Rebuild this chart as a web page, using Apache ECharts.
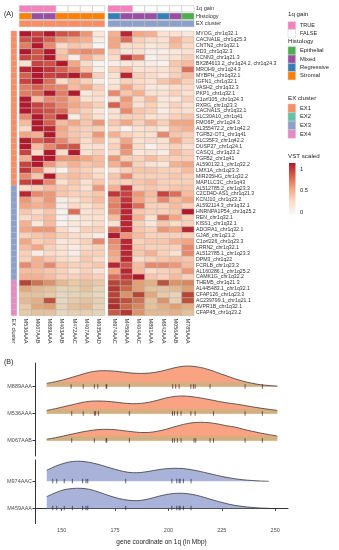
<!DOCTYPE html>
<html><head><meta charset="utf-8">
<script src="https://cdn.jsdelivr.net/npm/echarts@6/dist/echarts.min.js"></script>
<style>html,body{margin:0;padding:0;background:#fff}#c{width:339px;height:550px}</style>
</head><body><div id="c"></div>
<script>
// ---------------- DATA ----------------
const genes = ['MYOG_chr1q32.1','CACNA1E_chr1q25.3','CNTN2_chr1q32.1','RD3_chr1q32.3','KCNN3_chr1q21.3','BX284613.2_chr1q24.2, chr1q24.3','MROH9_chr1q24.3','MYBPH_chr1q32.1','IGFN1_chr1q32.1','VASH2_chr1q32.3','PKP1_chr1q32.1','C1orf105_chr1q24.3','RXRG_chr1q23.3','CACNA1S_chr1q32.1','SLC30A10_chr1q41','FMO6P_chr1q24.3','AL355472.2_chr1q42.2','TGFB2-OT1_chr1q41','SLC35F3_chr1q42.2','DUSP27_chr1q24.1','CASQ1_chr1q23.2','TGFB2_chr1q41','AL590132.1_chr1q32.2','LMX1A_chr1q23.3','MIR205HG_chr1q32.2','MAP1LC3C_chr1q43','AL512785.2_chr1q23.3','C2CD4D-AS1_chr1q21.3','KCNJ10_chr1q23.2','AL592114.3_chr1q32.1','HNRNPA1P54_chr1q25.2','REN_chr1q32.1','KISS1_chr1q32.1','ADORA1_chr1q32.1','GJA8_chr1q21.2','C1orf226_chr1q23.3','LRRN2_chr1q32.1','AL512785.1_chr1q23.3','DPM3_chr1q22','FCRLB_chr1q23.3','AL160286.1_chr1q25.2','CAMK1G_chr1q32.2','THEM5_chr1q21.3','AL445483.1_chr1q32.1','CFAP126_chr1q23.3','AC239799.1_chr1q21.1','AVPR1B_chr1q32.1','CFAP45_chr1q23.2'];
const geneCluster = [].concat(Array(26).fill('EX1'), Array(16).fill('EX3'), Array(6).fill('EX4'));
const samplesL = ['M536AAA','M067AAB','M889AAA','M403AAB','M472AAC','M407AAA','M035AAD'];
const samplesR = ['M974AAC','M459AAA','M404AAC','M891AAA','M842AAA','M056AAB','M785AAA'];
const gainL = ['TRUE','TRUE','TRUE','FALSE','FALSE','FALSE','FALSE'];
const gainR = ['TRUE','TRUE','FALSE','FALSE','FALSE','FALSE','FALSE'];
const histL = ['Stromal','Mixed','Mixed','Stromal','Stromal','Stromal','Stromal'];
const histR = ['Regressive','Mixed','Mixed','Mixed','Regressive','Mixed','Epithelial'];
const clusterL = ['EX1','EX1','EX1','EX1','EX1','EX1','EX1'];
const clusterR = ['EX3','EX3','EX3','EX3','EX3','EX3','EX3'];
const annRows = ['1q gain','Histology','EX cluster'];

const vstL = [
[1.0,0.85,1.0,0.8,0.75,0.55,0.15],[0.8,0.9,0.75,0.55,0.5,0.45,0.1],[0.65,1.0,0.6,0.25,0.35,0.3,0.02],
[1.0,0.8,1.0,0.35,0.55,0.6,0.55],[0.85,0.8,1.0,0.4,0.1,0.45,0.3],[0.2,0.85,0.8,1.0,0.5,0.25,0.05],
[0.95,1.0,0.9,0.75,0.6,0.35,0.1],[0.75,1.0,0.85,0.9,1.0,0.75,0.3],[0.85,1.0,0.7,0.25,0.4,0.3,0.1],
[0.65,0.75,0.65,0.6,0.4,0.5,0.3],[0.65,0.7,1.0,0.65,1.0,0.15,0.25],[1.0,0.4,0.6,0.6,0.45,0.2,0.2],
[1.0,0.85,0.75,0.6,0.5,0.4,0.3],[1.0,0.85,0.8,0.7,0.4,0.3,0.15],[0.6,1.0,0.75,1.0,0.1,0.35,0.2],
[0.4,1.0,0.75,0.4,0.5,0.35,0.55],[0.25,1.0,0.95,0.5,0.35,0.3,0.3],[0.5,0.45,1.0,0.45,0.35,0.3,0.55],
[1.0,0.75,0.85,0.6,0.4,0.25,0.4],[1.0,0.4,0.6,0.75,0.8,0.2,0.2],[0.85,0.25,1.0,0.25,1.0,0.2,0.3],
[0.45,1.0,1.0,0.55,0.55,0.5,0.4],[0.85,1.0,0.55,0.35,0.45,0.35,0.4],[0.9,0.6,0.25,0.05,0.35,0.3,0.2],
[0.6,0.35,1.0,0.35,0.4,0.35,0.25],[0.85,0.95,0.6,0.2,0.35,0.2,0.35],
[0.25,0.3,0.4,0.35,0.3,0.2,0.55],[0.95,0.6,0.55,0.35,0.3,0.3,0.35],[0.55,0.4,0.55,0.1,0.2,0.3,0.4],
[0.5,0.45,0.5,0.1,0.25,0.2,0.3],[0.35,0.25,0.35,0.05,0.7,0.2,0.25],[0.25,0.3,0.4,0.05,0.1,0.2,0.2],
[0.45,0.15,0.4,0.05,0.15,0.15,0.25],[0.5,0.55,0.55,0.25,0.1,0.3,0.3],[0.3,0.35,0.4,0.3,0.25,0.2,0.1],
[0.5,0.3,0.35,0.15,0.2,0.3,0.6],[0.4,0.5,0.3,0.2,0.1,0.25,0.3],[0.3,0.1,0.25,0.2,0.1,0.3,0.3],
[0.3,0.45,0.35,0.25,0.2,0.35,0.25],[0.6,0.45,0.6,0.35,0.3,0.3,0.35],[0.4,0.4,0.35,0.3,0.2,0.3,0.2],
[0.45,0.45,0.4,0.3,0.3,0.35,0.3],[0.9,0.7,0.55,0.35,0.25,0.3,0.25],[0.45,0.35,0.3,0.15,0.2,0.3,0.15],
[0.3,0.3,0.25,0.1,0.15,0.2,0.1],[0.35,0.4,0.85,0.1,0.25,0.3,0.2],[0.25,0.45,0.5,0.15,0.3,0.35,0.15],
[0.25,0.3,0.3,0.1,0.2,0.2,0.15]];
const vstR = [
[0.45,0.95,0.5,0.45,0.2,0.2,0.15],[0.5,0.7,0.3,0.25,0.2,0.45,0.3],[0.5,0.25,0.25,0.15,0.2,0.4,0.25],
[0.3,0.15,0.2,0.1,0.1,0.15,0.2],[0.25,0.9,0.65,0.05,0.15,0.2,0.3],[0.1,0.15,0.15,0.1,0.05,0.35,0.4],
[0.3,0.4,0.2,0.2,0.2,0.3,0.7],[0.2,0.95,0.3,0.25,0.15,0.3,0.4],[0.15,0.3,0.25,0.2,0.35,0.45,0.3],
[0.2,0.5,0.3,0.15,0.15,0.25,0.25],[0.6,0.35,0.45,0.2,0.2,0.3,0.2],[0.2,0.55,0.25,0.4,0.15,0.15,0.3],
[0.75,0.5,0.2,0.3,0.15,0.3,0.2],[0.2,0.6,0.35,0.3,0.1,0.25,0.2],[0.2,0.3,0.3,0.2,0.2,0.3,0.35],
[0.35,0.5,0.3,0.45,0.3,0.5,0.5],[0.25,0.05,0.2,0.25,0.15,0.4,0.45],[0.45,0.3,0.25,0.2,0.6,0.35,0.3],
[0.25,0.5,0.2,0.25,0.2,0.5,0.3],[0.3,0.6,0.25,0.05,0.2,0.3,0.2],[0.25,0.55,0.15,0.2,0.1,0.4,0.3],
[0.55,0.3,0.3,0.4,0.3,0.3,0.3],[0.45,0.6,0.3,0.2,0.15,0.45,0.5],[0.2,0.3,0.35,0.35,0.3,0.3,0.4],
[0.35,0.6,0.3,0.3,0.3,0.35,0.3],[0.3,0.3,0.35,0.4,0.3,0.3,0.3],
[0.45,0.9,0.3,0.35,0.3,0.35,0.35],[0.9,0.85,0.55,0.4,0.85,0.7,0.4],[0.6,0.9,0.5,0.35,0.6,0.4,0.5],
[0.65,0.95,0.7,0.3,0.3,0.4,0.3],[0.6,0.95,0.35,0.3,0.3,0.35,1.0],[0.4,0.95,0.45,0.2,0.7,0.5,0.3],
[0.2,0.95,0.3,0.15,0.35,0.25,0.3],[0.7,0.95,0.35,0.3,0.55,0.5,0.95],[1.0,0.55,0.4,0.3,0.3,0.3,0.3],
[0.6,0.95,0.3,0.35,0.35,0.45,0.5],[0.55,0.95,0.35,0.3,0.3,0.3,0.6],[0.5,0.95,0.35,0.45,0.3,0.2,0.6],
[0.45,0.95,0.25,0.3,0.35,0.4,0.35],[0.95,0.8,0.4,0.6,0.6,0.55,0.4],[0.5,0.95,0.4,0.25,0.3,0.35,0.55],
[0.7,0.9,1.0,0.35,0.3,0.4,0.3],[0.9,0.85,0.5,0.4,0.85,0.55,0.6],[0.95,0.75,0.5,0.3,0.3,0.35,0.5],
[0.9,0.55,0.9,0.45,0.25,0.15,0.9],[0.95,0.85,0.7,0.3,0.55,0.2,0.85],[1.0,0.75,0.6,0.3,0.4,0.5,0.4],
[0.8,0.95,0.55,0.35,0.35,0.4,0.3]];

// Panel B
const ridgeTop = ['M067AAB','M536AAA','M889AAA'];   // bottom -> top
const ridgeBot = ['M459AAA','M974AAC'];
const densX = [143,147,151,155,159,163,167,171,175,179,183,187,191,195,199,203,207,211,215,219,223,227,231,235,239,243,247,251];
const densM889 = [3.3,5,7,9.5,12,14.5,15.8,16,15.5,14.5,13.6,13.3,13.6,14.8,16.8,19,20.5,20.5,19.3,17,14,11,8,5.5,3.5,2,1.2,0.6];
const densM536 = [3.3,5,7,9,11,12.4,12.7,12.4,11.6,10.6,10,10.3,11.5,13.5,15.8,17.3,17.7,17,15.8,14.2,12.5,11,9.8,8.5,7,5.6,4.4,3.3];
const densM067 = [1.5,3,4.8,6.7,8.5,10,11.1,11.4,11,10,9,8.2,8.3,9.5,11.5,14,16.3,17.9,18.4,18,16.8,15,13.7,11.5,9.5,7.7,6.1,4.7];
const densXB = [143,147,151,155,159,163,167,171,175,179,183,187,191,195,199,203,207,211,215,219,223,227,231,235,239,243,247];
const densM974 = [11,15,18,19.8,20,19,17,14.5,12,9.8,8.6,8.8,10,11.5,12.6,13,12.7,11.5,9.8,7.8,5.8,4,2.6,1.5,0.8,0.3,0];
const densM459 = [11.6,15.5,18.5,19.8,20,19,16.5,13.5,10.8,8.8,7.7,7.9,9.5,11.8,13.8,14.9,15,14,12,9.5,7,4.8,3,1.8,0.9,0.3,0];
const rugM889 = [154.4,160.1,165.3,166.9,170.8,171.1,181.7,202.0,203.4,205.0,210.5,211.7,212.5,219.5,235.9,244.0];
const rugM536 = [154.7,160.1,165.3,165.9,167.2,181.7,201.9,202.8,204.2,205.9,210.5,212.5,221.1,235.9,244.0];
const rugM067 = [154.7,165.3,170.8,171.1,181.7,201.9,202.8,204.2,205.9,212.0,212.8,219.5,221.1,235.9,244.0];
const rugM974 = [145.8,147.7,151.2,155.0,159.8,161.4,162.2,180.0,201.6,203.9,205.0,205.5,207.0,210.6];
const rugM459 = [145.8,147.7,151.2,155.0,159.8,161.4,162.2,180.0,201.6,203.9,205.0,205.5,207.0,210.6];
const xTicks = [150,175,200,225,250];
const vstTicks = [1, 0.5, 0];

// ---------------- STYLE ----------------
const FONT = 'Liberation Sans, Arial, sans-serif';
const colGain = {TRUE:'#F781BF', FALSE:'#FFFFFF'};
const colHist = {Epithelial:'#4DAF4A', Mixed:'#984EA3', Regressive:'#377EB8', Stromal:'#FF7F00'};
const colEX = {EX1:'#FC8D62', EX2:'#66C2A5', EX3:'#8DA0CB', EX4:'#E78AC3'};
const heatColors = ['#F7F7F7','#FDDBC7','#F4A582','#D6604D','#B2182B'];
const CELL_STROKE = '#b9b9b9';

const chart = echarts.init(document.getElementById('c'), null, {renderer:'canvas'});

function heatData(m){ const d=[]; m.forEach((row,y)=>row.forEach((v,x)=>d.push([x,y,v]))); return d; }
function heatRender(params, api){
  const x=api.value(0), y=api.value(1);
  const c=api.coord([x,y]); const s=api.size([1,1]);
  const r={x:c[0]-s[0]/2,y:c[1]-s[1]/2,width:s[0],height:s[1]};
  const children=[{type:'rect',shape:r,style:{fill:api.visual('color'),stroke:CELL_STROKE,lineWidth:0.5}}];
  if(geneCluster[y]==='EX4') children.push({type:'rect',shape:r,style:{fill:'rgba(150,135,50,0.2)'}});
  return {type:'group',children};
}
function annData(n){ const d=[]; for(let x=0;x<n;x++) for(let y=0;y<3;y++) d.push([x,y]); return d; }
function annRender(gain,hist,clus){
  return function(params, api){
    const x=api.value(0), y=api.value(1);
    const c=api.coord([x,y]); const s=api.size([1,1]);
    const col = y===0?colGain[gain[x]]:(y===1?colHist[hist[x]]:colEX[clus[x]]);
    return {type:'rect',shape:{x:c[0]-s[0]/2,y:c[1]-s[1]/2+0.6,width:s[0],height:s[1]-1.2},style:{fill:col,stroke:CELL_STROKE,lineWidth:0.5}};
  };
}
function rowAnnRender(params, api){
  const y=api.value(1); const c=api.coord([0,y]); const s=api.size([1,1]);
  return {type:'rect',shape:{x:c[0]-s[0]/2,y:c[1]-s[1]/2,width:s[0],height:s[1]},style:{fill:colEX[geneCluster[y]],stroke:CELL_STROKE,lineWidth:0.4}};
}
function ridgeRender(xs, dens, fill, band){
  return function(params, api){
    const i=params.dataIndex; const h=dens[i];
    const pts=xs.map((x,j)=>api.coord([x, i*27 + h[j]]));
    const b0=api.coord([xs[0], i*27]); const b1=api.coord([xs[xs.length-1], i*27]);
    const ch=[{type:'polygon',shape:{points:[b0].concat(pts,[b1])},style:{fill:fill}}];
    if(band){
      const bp=xs.map((x,j)=>api.coord([x, i*27 + Math.min(h[j],4.5)]));
      ch.push({type:'polygon',shape:{points:[b0].concat(bp,[b1])},style:{fill:band}});
    }
    ch.push({type:'polyline',shape:{points:pts,smooth:0.3},style:{stroke:'#3a3a3a',lineWidth:0.8,fill:null}});
    return {type:'group',children:ch};
  };
}
function rugData(rugs){ const d=[]; rugs.forEach((r,i)=>r.forEach(x=>d.push([x,i*27]))); return d; }
function rugRender(color){
  return function(params, api){
    const p0=api.coord([api.value(0), api.value(1)+2.5]); const p1=api.coord([api.value(0), api.value(1)-2]);
    return {type:'line',shape:{x1:p0[0],y1:p0[1],x2:p1[0],y2:p1[1]},style:{stroke:color,lineWidth:0.7}};
  };
}

const hid = {show:false};
const gridBase = {containLabel:false, outerBoundsMode:'none'};
const HT=31, HH=284.6;
const grids = [
  Object.assign({left:19.3, top:HT, width:85.4, height:HH}, gridBase),   //0 heat L
  Object.assign({left:108, top:HT, width:86, height:HH}, gridBase),      //1 heat R
  Object.assign({left:19.3, top:5, width:85.4, height:22.4}, gridBase),  //2 ann L
  Object.assign({left:108, top:5, width:86, height:22.4}, gridBase),     //3 ann R
  Object.assign({left:11, top:HT, width:5.8, height:HH}, gridBase),      //4 row ann
  Object.assign({left:35, top:363, width:253, height:93}, gridBase),     //5 ridges top
  Object.assign({left:35, top:460, width:253, height:63.5}, gridBase)    //6 ridges bottom
];
const colLabel = {show:true, rotate:-90, fontSize:5.5, color:'#333', margin:3, interval:0, fontFamily:FONT};
const xAxes = [
  {type:'category', gridIndex:0, data:samplesL, axisLine:hid, axisTick:hid, axisLabel:colLabel},
  {type:'category', gridIndex:1, data:samplesR, axisLine:hid, axisTick:hid, axisLabel:colLabel},
  {type:'category', gridIndex:2, data:samplesL, show:false},
  {type:'category', gridIndex:3, data:samplesR, show:false},
  {type:'category', gridIndex:4, data:['EX cluster'], axisLine:hid, axisTick:hid, axisLabel:colLabel},
  {type:'value', gridIndex:5, min:137.5, max:256, show:false},
  {type:'value', gridIndex:6, min:137.5, max:256,
    axisLine:{show:true,lineStyle:{color:'#333',width:1}},
    axisTick:{show:true,customValues:xTicks,length:2.5,lineStyle:{color:'#333'}},
    axisLabel:{show:true,customValues:xTicks,fontSize:5.5,color:'#4d4d4d',margin:4,fontFamily:FONT},
    splitLine:hid,
    name:'gene coordinate on 1q (in Mbp)', nameLocation:'middle', nameGap:15,
    nameTextStyle:{fontSize:6.5,color:'#222',fontFamily:FONT}}
];
const yAxes = [
  {type:'category', gridIndex:0, data:genes, inverse:true, show:false},
  {type:'category', gridIndex:1, data:genes, inverse:true, position:'right', axisLine:hid, axisTick:hid,
    axisLabel:{show:true, fontSize:5.2, color:'#333', margin:2, interval:0, fontFamily:FONT}},
  {type:'category', gridIndex:2, data:annRows, inverse:true, show:false},
  {type:'category', gridIndex:3, data:annRows, inverse:true, position:'right', axisLine:hid, axisTick:hid,
    axisLabel:{show:true, fontSize:5.5, color:'#333', margin:2, interval:0, fontFamily:FONT}},
  {type:'category', gridIndex:4, data:genes, inverse:true, show:false},
  {type:'value', gridIndex:5, min:-15.3, max:77.7, splitLine:hid,
    axisLine:{show:true,lineStyle:{color:'#333',width:1}},
    axisTick:{show:true,customValues:[0,27,54],length:2.5,lineStyle:{color:'#333'}},
    axisLabel:{show:true,customValues:[0,27,54],fontSize:5.5,color:'#4d4d4d',margin:3,fontFamily:FONT,
      formatter:v=>ridgeTop[Math.round(v/27)]}},
  {type:'value', gridIndex:6, min:-15.2, max:48.3, splitLine:hid,
    axisLine:{show:true,lineStyle:{color:'#333',width:1}},
    axisTick:{show:true,customValues:[0,27],length:2.5,lineStyle:{color:'#333'}},
    axisLabel:{show:true,customValues:[0,27],fontSize:5.5,color:'#4d4d4d',margin:3,fontFamily:FONT,
      formatter:v=>ridgeBot[Math.round(v/27)]}}
];

const rowAnnData = genes.map((g,i)=>[0,i]);
const series = [
  {type:'custom', xAxisIndex:0, yAxisIndex:0, data:heatData(vstL), renderItem:heatRender, encode:{x:0,y:1}},
  {type:'custom', xAxisIndex:1, yAxisIndex:1, data:heatData(vstR), renderItem:heatRender, encode:{x:0,y:1}},
  {type:'custom', xAxisIndex:2, yAxisIndex:2, data:annData(7), renderItem:annRender(gainL,histL,clusterL), encode:{x:0,y:1}},
  {type:'custom', xAxisIndex:3, yAxisIndex:3, data:annData(7), renderItem:annRender(gainR,histR,clusterR), encode:{x:0,y:1}},
  {type:'custom', xAxisIndex:4, yAxisIndex:4, data:rowAnnData, renderItem:rowAnnRender, encode:{x:0,y:1}},
  {type:'custom', xAxisIndex:5, yAxisIndex:5, data:[[0],[1],[2]], renderItem:ridgeRender(densX,[densM067,densM536,densM889],'#F9A383','rgba(170,190,130,0.5)'), silent:true},
  {type:'custom', xAxisIndex:6, yAxisIndex:6, data:[[0],[1]], renderItem:ridgeRender(densXB,[densM459,densM974],'#A9B3D9',null), silent:true},
  {type:'custom', xAxisIndex:5, yAxisIndex:5, data:rugData([rugM067,rugM536,rugM889]), renderItem:rugRender('#4a1515'), encode:{x:0,y:1}},
  {type:'custom', xAxisIndex:6, yAxisIndex:6, data:rugData([rugM459,rugM974]), renderItem:rugRender('#20233f'), encode:{x:0,y:1}}
];

// legend graphics
const g = [];
const T = (x,y,t,fs)=>g.push({type:'text',x:x,y:y,style:{text:t,fontSize:fs,fill:'#222',fontFamily:FONT,verticalAlign:'middle',align:'left'}});
const B = (x,y,w,h,fill)=>g.push({type:'rect',shape:{x:x,y:y,width:w,height:h},style:{fill:fill,stroke:'#c8c8c8',lineWidth:0.5}});
T(4,14,'(A)',7); T(4,362,'(B)',7);
T(288,14,'1q gain',6.2);
[['TRUE',colGain.TRUE],['FALSE',colGain.FALSE]].forEach((e,i)=>{B(288,21.7+i*7.9,7.6,7.6,e[1]);T(300,25.5+i*7.9,e[0],5.5);});
T(288,41,'Histology',6.2);
Object.keys(colHist).forEach((k,i)=>{B(288,46.7+i*8.35,7.6,8.1,colHist[k]);T(300,50.8+i*8.35,k,5.8);});
T(288,98,'EX cluster',6.2);
Object.keys(colEX).forEach((k,i)=>{B(288,104+i*8.6,7.6,8.4,colEX[k]);T(300,108.2+i*8.6,k,5.8);});
T(288,156,'VST scaled',6.2);
g.push({type:'rect',shape:{x:289,y:163,width:6.5,height:51},style:{fill:new echarts.graphic.LinearGradient(0,0,0,1,
  heatColors.slice().reverse().map((c,i)=>({offset:i/(heatColors.length-1),color:c})))}});
vstTicks.forEach(v=>T(300,169+(1-v)*43,String(v),5.8));

chart.setOption({
  animation:false,
  backgroundColor:'#fff',
  grid:grids, xAxis:xAxes, yAxis:yAxes,
  visualMap:[{type:'continuous', show:false, min:0, max:1, dimension:2, seriesIndex:[0,1], inRange:{color:heatColors}}],
  series:series,
  graphic:g
});
</script></body></html>
